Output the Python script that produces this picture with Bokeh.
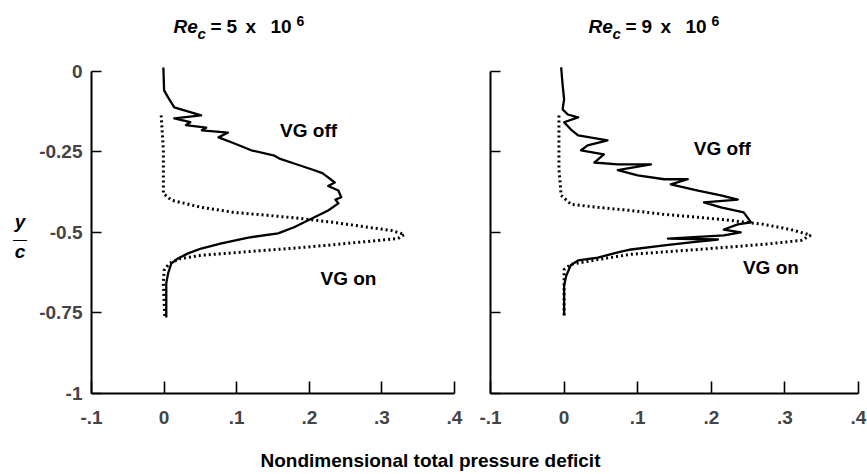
from bokeh.plotting import figure
from bokeh.layouts import column, row
from bokeh.models import Label, FixedTicker, CustomJSTickFormatter, Range1d
from bokeh.embed import file_html
from bokeh.resources import INLINE

FONT = "Liberation Sans"

# ---------------- data ----------------
x_ticks = [-0.1, 0.0, 0.1, 0.2, 0.3, 0.4]
y_ticks = [0.0, -0.25, -0.5, -0.75, -1.0]
reynolds = ["5", "9"]
x_title = "Nondimensional total pressure deficit"

# Re_c = 5e6, VG off (solid)
left_off_x = [-0.001, 0.0, 0.0055, 0.014, 0.051, 0.014, 0.036, 0.030, 0.058, 0.052, 0.088, 0.075,
              0.097, 0.12, 0.152, 0.160, 0.179, 0.207, 0.218, 0.226, 0.235, 0.226, 0.24, 0.244,
              0.236, 0.24, 0.226, 0.207, 0.179, 0.157, 0.116, 0.079, 0.051, 0.033, 0.019, 0.01,
              0.0055, 0.003, 0.003, 0.003]
left_off_y = [0.012, -0.059, -0.081, -0.112, -0.137, -0.146, -0.158, -0.167, -0.175, -0.183, -0.190,
              -0.205, -0.224, -0.245, -0.262, -0.272, -0.286, -0.307, -0.316, -0.329, -0.345,
              -0.356, -0.37, -0.391, -0.398, -0.41, -0.432, -0.453, -0.484, -0.503, -0.516,
              -0.534, -0.55, -0.565, -0.581, -0.596, -0.627, -0.658, -0.702, -0.764]

# Re_c = 5e6, VG on (dotted)
left_on_x = [-0.004, -0.001, -0.001, 0.01, 0.051, 0.096, 0.143, 0.189, 0.234, 0.281, 0.313, 0.331,
             0.322, 0.234, 0.189, 0.12, 0.051, 0.023, 0.007, 0.0, -0.001, 0.0, 0.001]
left_on_y = [-0.137, -0.245, -0.379, -0.4, -0.422, -0.438, -0.447, -0.457, -0.469, -0.484, -0.494,
             -0.506, -0.519, -0.538, -0.547, -0.559, -0.571, -0.581, -0.596, -0.618, -0.658,
             -0.711, -0.767]

# Re_c = 9e6, VG off (solid)
right_off_x = [-0.004, -0.002, 0.0, -0.002, 0.005, 0.019, 0.0, 0.009, 0.019, 0.059, 0.032, 0.023,
               0.054, 0.041, 0.073, 0.118, 0.073, 0.1, 0.136, 0.168, 0.145, 0.182, 0.213, 0.236,
               0.19, 0.213, 0.244, 0.254, 0.236, 0.217, 0.24, 0.217, 0.141, 0.209, 0.172, 0.136,
               0.091, 0.073, 0.046, 0.019, 0.009, 0.003, 0.0, 0.0, 0.0]
right_off_y = [0.012, -0.043, -0.087, -0.118, -0.134, -0.143, -0.158, -0.18, -0.199, -0.214, -0.23,
               -0.245, -0.258, -0.283, -0.289, -0.289, -0.307, -0.323, -0.335, -0.335, -0.351,
               -0.37, -0.385, -0.398, -0.407, -0.422, -0.438, -0.469, -0.475, -0.491, -0.5,
               -0.509, -0.519, -0.522, -0.531, -0.54, -0.553, -0.562, -0.578, -0.587, -0.602,
               -0.634, -0.665, -0.708, -0.758]

# Re_c = 9e6, VG on (dotted)
right_on_x = [-0.007, -0.007, -0.007, -0.004, 0.0095, 0.046, 0.091, 0.136, 0.182, 0.227, 0.271,
              0.308, 0.331, 0.335, 0.322, 0.271, 0.182, 0.091, 0.046, 0.0095, 0.0, 0.0, 0.0, 0.0]
right_on_y = [-0.137, -0.199, -0.304, -0.385, -0.413, -0.422, -0.432, -0.444, -0.453, -0.463,
              -0.475, -0.491, -0.506, -0.509, -0.525, -0.537, -0.553, -0.568, -0.584, -0.599,
              -0.615, -0.655, -0.708, -0.758]

X_FMT = CustomJSTickFormatter(code="""
if (Math.abs(tick) < 1e-9) { return "0"; }
return tick.toFixed(1).replace("0.", ".");
""")
Y_FMT = CustomJSTickFormatter(code="""
if (Math.abs(tick) < 1e-9) { return "0"; }
return String(Math.round(tick * 100) / 100);
""")
Y_BLANK = CustomJSTickFormatter(code="return '';")

ROW_H = 375
B_TOP = 8
B_BOT = 40


def label(p, x, y, text, size="19px", style="bold", align="center", baseline="middle",
          xo=0, yo=0):
    p.add_layout(Label(x=x, y=y, x_offset=xo, y_offset=yo, text=text, text_font=FONT,
                       text_font_size=size, text_font_style=style, text_color="black",
                       text_align=align, text_baseline=baseline))


def strip(width, height):
    # bare canvas; data x = page px, data y = px above the strip's bottom
    f = figure(width=width, height=height, x_range=Range1d(0, width),
               y_range=Range1d(0, height), output_backend="svg",
               toolbar_location=None, min_border=0, x_axis_type=None, y_axis_type=None)
    f.title = None
    f.grid.visible = False
    f.outline_line_color = None
    return f


def make_panel(width, bl, br, show_y, off_x, off_y, on_x, on_y):
    p = figure(width=width, height=ROW_H, x_range=Range1d(-0.1, 0.4),
               y_range=Range1d(-1.0, 0.015), output_backend="svg", toolbar_location=None,
               min_border_left=bl, min_border_right=br, min_border_top=B_TOP,
               min_border_bottom=B_BOT)
    p.title = None
    p.grid.visible = False
    p.outline_line_color = None

    xa = p.xaxis[0]
    xa.ticker = FixedTicker(ticks=x_ticks)
    xa.formatter = X_FMT
    xa.bounds = (-0.1, 0.4)
    xa.major_tick_in = 12
    xa.major_tick_out = 0
    xa.minor_tick_line_color = None
    xa.axis_line_width = 2
    xa.major_tick_line_width = 1.6
    xa.major_label_standoff = 17
    xa.major_label_text_font = FONT
    xa.major_label_text_font_style = "bold"
    xa.major_label_text_font_size = "19px"

    ya = p.yaxis[0]
    ya.ticker = FixedTicker(ticks=y_ticks)
    ya.formatter = Y_FMT if show_y else Y_BLANK
    ya.bounds = (-1.0, 0.0)
    ya.major_tick_in = 10
    ya.major_tick_out = 0
    ya.minor_tick_line_color = None
    ya.axis_line_width = 2
    ya.major_tick_line_width = 1.6
    ya.major_label_standoff = 9
    ya.major_label_text_font = FONT
    ya.major_label_text_font_style = "bold"
    ya.major_label_text_font_size = "19px"

    p.line(off_x, off_y, line_color="black", line_width=2.3, line_join="round")
    p.line(on_x, on_y, line_color="black", line_width=3, line_dash="2 3")
    return p


# ---- top strip with the two titles: Re_c = N x 10^6 (page y of text middles) ----
TOP_H = 58
top = strip(867, TOP_H)
for re, x0 in zip(reynolds, [173, 588]):
    pieces = [("Re", 0, "19px", "bold italic", 25.5), ("c", 24, "15px", "bold italic", 32.5),
              ("=", 37, "19px", "bold", 25.5), (re, 53, "19px", "bold", 25.5),
              ("x", 72, "19px", "bold", 25.5), ("10", 97, "19px", "bold", 25.5),
              ("6", 123, "14px", "bold", 20)]
    for txt, dx, sz, st, ym in pieces:
        label(top, x0 + dx, TOP_H - ym, txt, size=sz, style=st, align="left",
              baseline="middle")

# ---- y/c label strip (same frame as the panels) ----
ycf = figure(width=30, height=ROW_H, x_range=Range1d(0, 30), y_range=Range1d(-1.0, 0.015),
             output_backend="svg", toolbar_location=None, min_border_left=0,
             min_border_right=0, min_border_top=B_TOP, min_border_bottom=B_BOT,
             x_axis_type=None, y_axis_type=None)
ycf.title = None
ycf.grid.visible = False
ycf.outline_line_color = None
label(ycf, 19.5, -0.4655, "y", size="19px", style="bold italic")
label(ycf, 19.5, -0.519, "\u2014", size="14px", style="normal")
label(ycf, 19.5, -0.5596, "c", size="19px", style="bold italic")

# ---- panels ----
left = make_panel(440, 61, 16, True, left_off_x, left_off_y, left_on_x, left_on_y)
right = make_panel(397, 20, 9, False, right_off_x, right_off_y, right_on_x, right_on_y)

label(left, 0.199, -0.183, "VG off")
label(left, 0.254, -0.643, "VG on")
label(right, 0.215, -0.239, "VG off")
label(right, 0.281, -0.609, "VG on")

# ---- shared x-axis title ----
BOT_H = 474 - TOP_H - ROW_H
bottom = strip(867, BOT_H)
label(bottom, 430, 474 - 460, x_title, size="19px", style="bold")

layout = column(top, row(ycf, left, right), bottom)
open("out.html", "w").write(file_html(layout, INLINE))
